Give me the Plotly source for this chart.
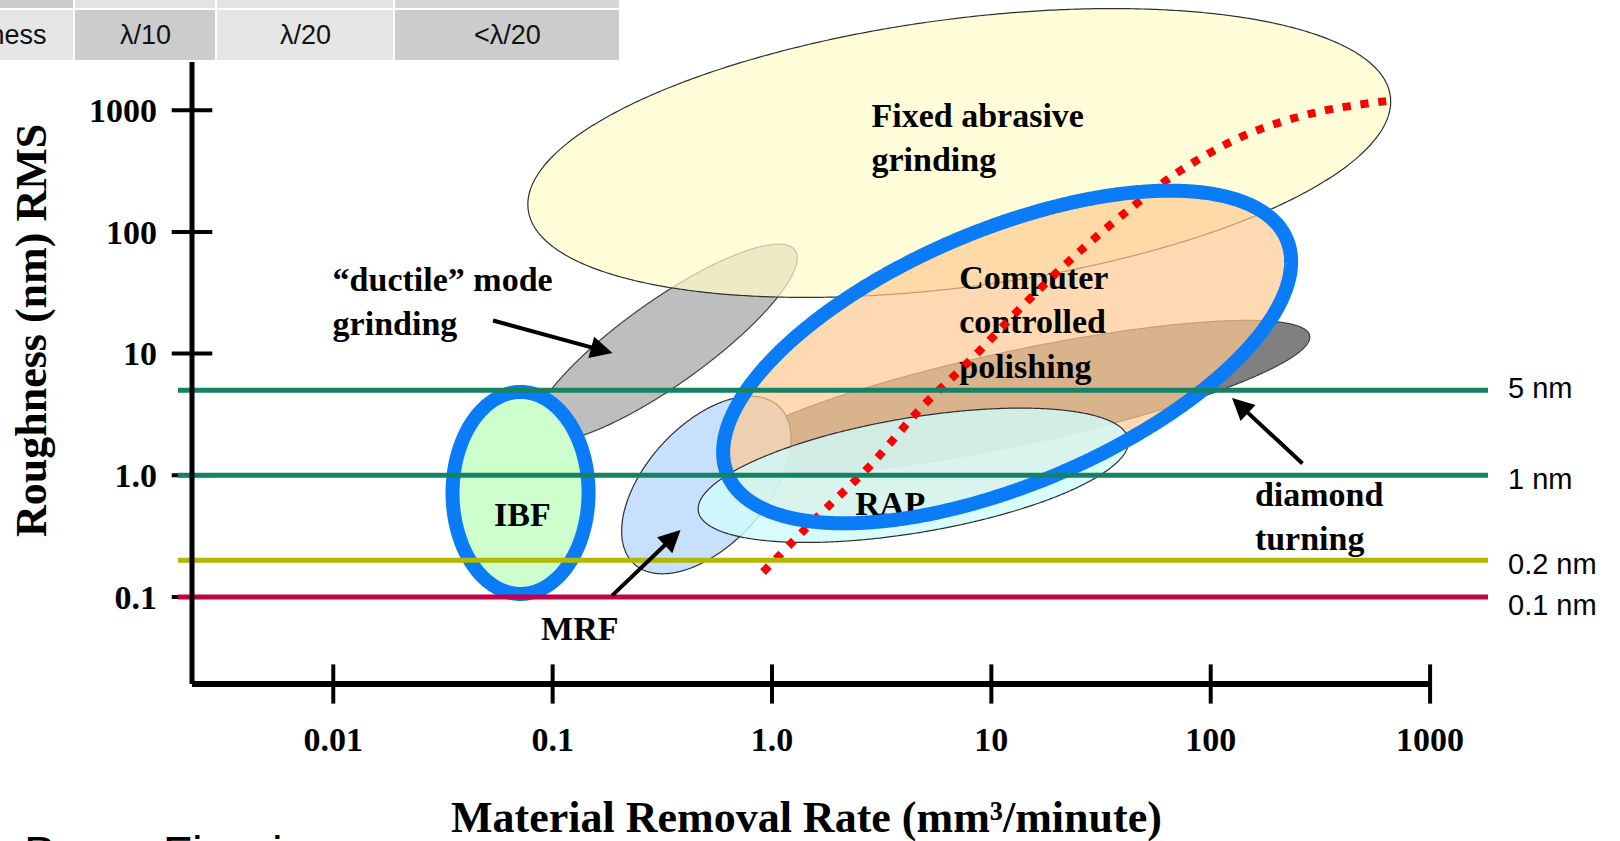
import numpy as np
import plotly.graph_objects as go

# ---------------- axis ticks ----------------
mrr_ticks = [0.01, 0.1, 1, 10, 100, 1000]
mrr_tick_text = ["0.01", "0.1", "1.0", "10", "100", "1000"]
rough_ticks = [0.1, 1, 10, 100, 1000]
rough_tick_text = ["0.1", "1.0", "10", "100", "1000"]

# ---------------- reference roughness levels (nm) ----------------
level_values = [5, 1, 0.2, 0.1]
level_labels = ["5 nm", "1 nm", "0.2 nm", "0.1 nm"]
level_colors = ["#168264", "#168264", "#b0b800", "#c2004a"]

# ---------------- process regions ----------------
# centre (MRR mm^3/min, roughness nm) and two conjugate half-axes in decades
region_names = ["ductile", "fixed", "diamond", "mrf", "ccp", "rap", "ibf"]
region_mrr = [0.324, 7.14, 13.0, 0.502, 11.8, 4.41, 0.0714]
region_rough = [12.2, 445, 4.32, 0.832, 9.38, 1.0, 0.716]
axis1_dx = [0.594, 1.965, 1.337, 0.329, 1.248, 0.980, 0.310]
axis1_dy = [0.763, 0.467, 0.513, 0.649, 0.946, 0.296, 0.0]
axis2_dx = [-0.111, -0.080, -0.045, -0.202, -0.213, -0.043, 0.0]
axis2_dy = [0.281, 1.091, 0.378, 0.333, 0.917, 0.466, 0.830]

# highlighted regions (blue rings)
ring_mrr = [0.0714, 11.8]
ring_rough = [0.716, 9.38]
ring_axis1_dx = [0.310, 1.275]
ring_axis1_dy = [0.0, 0.966]
ring_axis2_dx = [0.0, -0.225]
ring_axis2_dy = [0.830, 0.967]

# trend of achievable roughness vs removal rate
trend_mrr = [0.91, 1.6, 2.8, 4.8, 8.3, 14, 25, 45, 73, 144, 310, 690]
trend_rough = [0.16, 0.45, 1.2, 3.6, 9.4, 25, 68, 166, 320, 625, 970, 1210]

# region labels: text, MRR, roughness, anchor
label_text = ["Fixed abrasive<br>grinding", "\u201cductile\u201d mode<br>grinding",
              "Computer<br>controlled<br>polishing", "IBF", "RAP", "MRF",
              "diamond<br>turning"]
label_mrr = [2.84, 0.00993, 7.14, 0.0728, 3.46, 0.133, 159]
label_rough = [560, 25.5, 17.2, 0.454, 0.556, 0.0525, 0.43]
label_pos = ["middle right", "middle right", "middle right", "middle center",
             "middle center", "middle center", "middle right"]

# annotation arrows: head (MRR, roughness) and tail offset in px
arrow_mrr = [0.1875, 0.383, 125]
arrow_rough = [10.1, 0.355, 4.32]
arrow_ax = [-121, -70, 72]
arrow_ay = [-33, 67, 67]

# flatness table header
table_labels = ["Roughness", "\u03bb/10", "\u03bb/20", "<\u03bb/20"]

# ---------------- layout constants ----------------
W, H = 1620, 841
L, R, T, B = 192, 132, 0, 157
PW, PH = W - L - R, H - T - B
XR = [-2.644, 3.264]
YR = [-1.715, 3.9055]
SERIF = "Liberation Serif, Times New Roman, serif"
SANS = "Liberation Sans, Arial, sans-serif"


def px_x(p):
    return (p - L) / PW


def px_y(p):
    return (T + PH - p) / PH


styles = {
    "ductile": dict(fill="#bebebe", line="#404040"),
    "fixed": dict(fill="rgba(255,253,200,0.7)", line="#303030"),
    "diamond": dict(fill="#808080", line="#404040"),
    "mrf": dict(fill="#c7e0fb", line="#303030"),
    "ccp": dict(fill="rgba(255,201,145,0.7)", line="rgba(110,70,30,0.45)"),
    "rap": dict(fill="rgba(208,250,250,0.82)", line="#303030"),
    "ibf": dict(fill="#ccffcc", line="rgba(0,0,0,0)"),
}

t = np.linspace(0, 2 * np.pi, 721)


def ellipse(mrr, rough, adx, ady, bdx, bdy):
    lx = np.log10(mrr) + adx * np.cos(t) + bdx * np.sin(t)
    ly = np.log10(rough) + ady * np.cos(t) + bdy * np.sin(t)
    return 10 ** lx, 10 ** ly


fig = go.Figure()

# region fills
for i, name in enumerate(region_names):
    ex, ey = ellipse(region_mrr[i], region_rough[i], axis1_dx[i], axis1_dy[i],
                     axis2_dx[i], axis2_dy[i])
    st = styles[name]
    fig.add_trace(go.Scatter(x=ex, y=ey, mode="lines", fill="toself",
                             fillcolor=st["fill"],
                             line=dict(color=st["line"], width=1.2, simplify=False),
                             hoverinfo="skip", showlegend=False))

# region labels
for i, txt in enumerate(label_text):
    fig.add_trace(go.Scatter(x=[label_mrr[i]], y=[label_rough[i]], mode="text",
                             text=[txt], textposition=label_pos[i],
                             textfont=dict(family=SERIF, size=34, color="black",
                                           weight="bold"),
                             hoverinfo="skip", showlegend=False))

# trend line
fig.add_trace(go.Scatter(x=trend_mrr, y=trend_rough, mode="lines",
                         line=dict(color="#ff0000", width=8, dash="8px,10px",
                                   shape="spline", smoothing=1.0),
                         hoverinfo="skip", showlegend=False))

# blue highlight rings
for i in range(len(ring_mrr)):
    ex, ey = ellipse(ring_mrr[i], ring_rough[i], ring_axis1_dx[i],
                     ring_axis1_dy[i], ring_axis2_dx[i], ring_axis2_dy[i])
    fig.add_trace(go.Scatter(x=ex, y=ey, mode="lines",
                             line=dict(color="#0a7cf8", width=14, simplify=False),
                             hoverinfo="skip", showlegend=False))

x_min = 10 ** XR[0]
y_min = 10 ** YR[0]

# cross tick marks on both axes
fig.add_trace(go.Scatter(x=mrr_ticks, y=[y_min] * len(mrr_ticks), mode="markers",
                         marker=dict(symbol="line-ns", size=28,
                                     line=dict(color="black", width=4)),
                         cliponaxis=False, hoverinfo="skip", showlegend=False))
fig.add_trace(go.Scatter(x=[x_min] * len(rough_ticks), y=rough_ticks, mode="markers",
                         marker=dict(symbol="line-ew", size=29,
                                     line=dict(color="black", width=4)),
                         cliponaxis=False, hoverinfo="skip", showlegend=False))

shapes = []
# roughness levels
for v, c in zip(level_values, level_colors):
    shapes.append(dict(type="line", xref="paper", yref="y", x0=px_x(178), x1=1.0,
                       y0=v, y1=v, line=dict(color=c, width=5), layer="above"))
# axis lines: x ends at the last tick, y starts below the header table
shapes.append(dict(type="line", xref="x", yref="paper", x0=x_min, x1=mrr_ticks[-1],
                   y0=0, y1=0, line=dict(color="black", width=6)))
shapes.append(dict(type="line", xref="paper", yref="paper", x0=0, x1=0,
                   y0=0, y1=px_y(62), line=dict(color="black", width=5)))

# table header cells
col_edges = [-260, 74, 216, 394, 620]
row2_fill = ["#e6e6e6", "#cccccc", "#e6e6e6", "#cccccc"]
row1_fill = ["#cccccc", "#e3e3e3", "#e3e3e3", "#d6d6d6"]
for j in range(4):
    x0, x1 = px_x(col_edges[j] + 1), px_x(col_edges[j + 1] - 1)
    shapes.append(dict(type="rect", xref="paper", yref="paper", x0=x0, x1=x1,
                       y0=px_y(60), y1=px_y(10), fillcolor=row2_fill[j],
                       line=dict(width=0)))
    shapes.append(dict(type="rect", xref="paper", yref="paper", x0=x0, x1=x1,
                       y0=px_y(8), y1=px_y(-40), fillcolor=row1_fill[j],
                       line=dict(width=0)))

annotations = []
# table text
tab_x = [49, 145, 305, 507]
for j, txt in enumerate(table_labels):
    annotations.append(dict(x=px_x(tab_x[j]), y=px_y(35), xref="paper", yref="paper",
                            text=txt, showarrow=False,
                            xanchor="right" if j == 0 else "center", yanchor="middle",
                            font=dict(family=SANS, size=27, color="#111111")))

# level labels
level_shift = [2, -4, -4, -8]
for v, lab, s in zip(level_values, level_labels, level_shift):
    annotations.append(dict(x=px_x(1506), y=np.log10(v), xref="paper", yref="y",
                            text=lab, showarrow=False, xanchor="left",
                            yanchor="middle", yshift=s,
                            font=dict(family=SANS, size=29, color="black")))

# arrows
for i in range(len(arrow_mrr)):
    annotations.append(dict(x=np.log10(arrow_mrr[i]), y=np.log10(arrow_rough[i]),
                            xref="x", yref="y", ax=arrow_ax[i], ay=arrow_ay[i],
                            text="", showarrow=True, arrowhead=2, arrowsize=1.1,
                            arrowwidth=4, arrowcolor="black"))

# axis titles
annotations.append(dict(x=px_x(31), y=px_y(331), xref="paper", yref="paper",
                        text="Roughness (nm) RMS", textangle=-90, showarrow=False,
                        xanchor="center", yanchor="middle",
                        font=dict(family=SERIF, size=44, color="black", weight="bold")))
annotations.append(dict(x=px_x(806), y=px_y(817), xref="paper", yref="paper",
                        text="Material Removal Rate (mm\u00b3/minute)",
                        showarrow=False, xanchor="center", yanchor="middle",
                        font=dict(family=SERIF, size=44, color="black", weight="bold")))

# caption running off the bottom edge
annotations.append(dict(x=px_x(22), y=px_y(853), xref="paper", yref="paper",
                        text="Beam Figuring", showarrow=False, xanchor="left",
                        yanchor="middle", font=dict(family=SANS, size=48, color="black")))

fig.update_layout(
    width=W, height=H,
    margin=dict(l=L, r=R, t=T, b=B, pad=0),
    paper_bgcolor="white", plot_bgcolor="white",
    showlegend=False,
    shapes=shapes, annotations=annotations,
    xaxis=dict(type="log", range=XR, showgrid=False, zeroline=False, showline=False,
               tickmode="array", tickvals=mrr_ticks, ticktext=mrr_tick_text,
               ticks="", ticklabelstandoff=32,
               tickfont=dict(family=SERIF, size=34, color="black", weight="bold")),
    yaxis=dict(type="log", range=YR, showgrid=False, zeroline=False, showline=False,
               tickmode="array", tickvals=rough_ticks, ticktext=rough_tick_text,
               ticks="", ticklabelstandoff=34,
               tickfont=dict(family=SERIF, size=34, color="black", weight="bold")),
)

fig.write_html("out.html")
